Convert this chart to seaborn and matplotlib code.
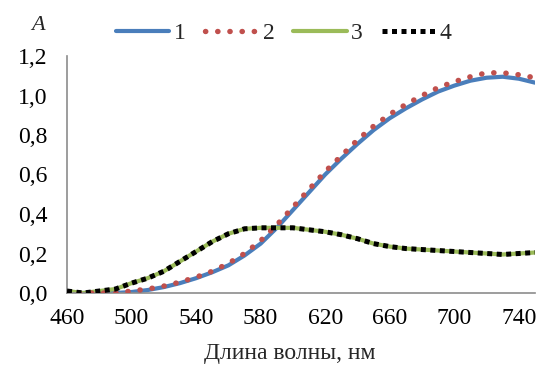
import numpy as np
import pandas as pd
import matplotlib
matplotlib.use("Agg")
import matplotlib.pyplot as plt
import seaborn as sns

# Data
wl12 = [460, 470, 480, 490, 500, 510, 520, 530, 540, 550, 560, 570, 580, 590, 600,
        610, 620, 630, 640, 650, 660, 670, 680, 690, 700, 710, 720, 730, 740, 750]
s1 = [0.00, 0.00, 0.00, 0.00, 0.005, 0.015, 0.03, 0.05, 0.075, 0.105, 0.14, 0.19, 0.25, 0.33,
      0.42, 0.51, 0.60, 0.68, 0.755, 0.825, 0.885, 0.935, 0.98, 1.02, 1.05, 1.075, 1.09, 1.095, 1.085, 1.065]
s2 = [0.00, 0.00, 0.00, 0.00, 0.01, 0.02, 0.035, 0.055, 0.08, 0.11, 0.15, 0.20, 0.265, 0.345,
      0.435, 0.525, 0.615, 0.695, 0.775, 0.845, 0.905, 0.955, 1.00, 1.04, 1.07, 1.095, 1.115, 1.115, 1.105, 1.09]
wl34 = wl12
s3 = [0.01, 0.00, 0.01, 0.02, 0.05, 0.075, 0.11, 0.16, 0.21, 0.26, 0.30, 0.325, 0.33, 0.33,
      0.33, 0.32, 0.31, 0.295, 0.275, 0.25, 0.235, 0.225, 0.22, 0.215, 0.21, 0.205, 0.20, 0.195, 0.20, 0.205]
s4 = s3

xticks = [460, 500, 540, 580, 620, 660, 700, 740]
yticks = [0.0, 0.2, 0.4, 0.6, 0.8, 1.0, 1.2]
ytick_labels = ["0,0", "0,2", "0,4", "0,6", "0,8", "1,0", "1,2"]

sns.set_theme(style="white")
plt.rcParams['font.family'] = ['Liberation Serif', 'DejaVu Serif']

W, H = 543, 374
fig = plt.figure(figsize=(W / 100, H / 100), dpi=100)
left, right, top, bottom = 67, 535, 56, 293
ax = fig.add_axes([left / W, 1 - bottom / H, (right - left) / W, (bottom - top) / H])

sns.lineplot(x=wl12, y=s1, ax=ax, color="#4a7ebb", linewidth=3.0, label="1", zorder=2)
sns.lineplot(x=wl12, y=s2, ax=ax, color="#c0504d", linewidth=3.9, label="2", zorder=3)
sns.lineplot(x=wl34, y=s3, ax=ax, color="#9bbb59", linewidth=3.0, label="3", zorder=2)
sns.lineplot(x=wl34, y=s4, ax=ax, color="black", linewidth=3.6, label="4", zorder=3)

lines = ax.get_lines()
lines[1].set_linestyle((0, (0.05, 2.2)))
lines[1].set_dash_capstyle("round")
lines[3].set_linestyle((0, (1, 0.9)))
lines[3].set_dash_capstyle("butt")

ax.set_xlim(460, 750)
ax.set_ylim(0, 1.2)
ax.set_xticks(xticks)
ax.set_xticklabels([str(t) for t in xticks])
ax.set_yticks(yticks)
ax.set_yticklabels(ytick_labels)

for s in ["top", "right"]:
    ax.spines[s].set_visible(False)
for s in ["left", "bottom"]:
    ax.spines[s].set_color("#8c8c8c")
    ax.spines[s].set_linewidth(1.2)
ax.tick_params(axis="both", which="both", direction="out", length=6, width=1.2,
               color="#8c8c8c", labelsize=17)
ax.tick_params(axis="x", pad=5)
ax.tick_params(axis="y", pad=8)
for lab in ax.get_xticklabels() + ax.get_yticklabels():
    lab.set_color("black")
ax.set_xlabel("")
ax.set_ylabel("")

fig.text(290 / W, 1 - 353 / H, "Длина волны, нм", fontsize=17, ha="center", va="center")

handles, labels = ax.get_legend_handles_labels()
ax.get_legend().remove()
fig.legend(handles, labels, loc="center", bbox_to_anchor=(284 / W, 1 - 33 / H), ncol=4,
           frameon=False, fontsize=17, handlelength=2.25, handletextpad=0.2,
           columnspacing=0.8, borderpad=0, borderaxespad=0)

fig.text(38 / W, 1 - 26 / H, "A", fontsize=16, fontstyle="italic", ha="center", va="center")

fig.savefig("out.png", dpi=100)
